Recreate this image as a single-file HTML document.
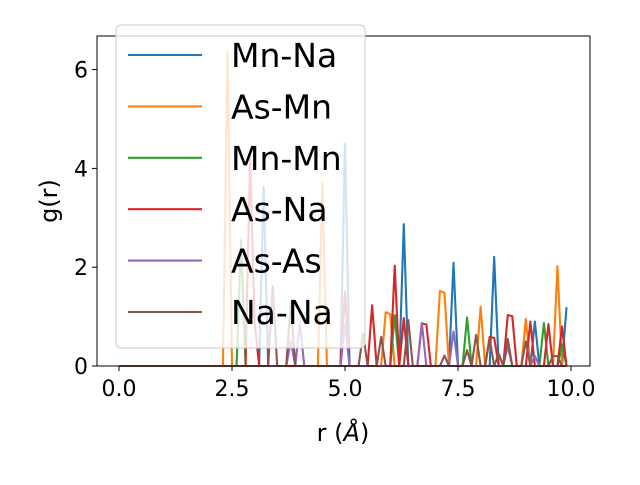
<!DOCTYPE html>
<html><head><meta charset="utf-8"><style>
body{margin:0;background:#fff;}
svg text{font-family:"DejaVu Sans","Liberation Sans",sans-serif;}
</style></head><body>
<svg id="chart" width="640" height="480" xmlns="http://www.w3.org/2000/svg">
<g id="plot"></g>
<g id="axes"></g>
<g id="legend"></g>
</svg>
<script>
const seriesNames = ["Mn-Na","As-Mn","Mn-Mn","As-Na","As-As","Na-Na"];
const seriesColors = ["#1f77b4","#ff7f0e","#2ca02c","#d62728","#9467bd","#8c564b"];
const xTicks = [0.0,2.5,5.0,7.5,10.0];
const xTickLabels = ["0.0","2.5","5.0","7.5","10.0"];
const yTicks = [0,2,4,6];
const yTickLabels = ["0","2","4","6"];
// peak positions (r) and heights (g) for each pair; all other grid points are 0
const mnNaR = [3.2,5.0,6.3,7.4,8.3,9.2,9.9];
const mnNaG = [3.63,4.5,2.87,2.09,2.21,0.9,1.19];
const asMnR = [2.4,4.5,5.9,6.0,7.1,7.2,8.0,9.0,9.7];
const asMnG = [6.36,3.7,1.09,1.05,1.52,1.48,1.2,0.95,2.02];
const mnMnR = [2.7,6.1,7.7,9.4,9.8];
const mnMnG = [2.55,1.03,0.98,0.87,0.44];
const asNaR = [2.9,3.0,5.0,5.6,6.1,6.3,6.7,6.8,8.2,8.3,8.6,8.7,9.1,9.5,9.8];
const asNaG = [4.24,0.9,1.5,1.23,2.03,0.97,0.86,0.84,0.59,0.57,1.03,1.01,0.9,0.85,0.8];
const asAsR = [3.8,4.0,5.0,6.7,7.4,8.6,9.2];
const asAsG = [0.5,0.87,0.85,0.87,0.7,0.4,0.2];
const naNaR = [3.4,3.8,5.4,5.8,6.4,7.2,7.7,7.9,8.2,8.4,8.6,9.0,9.6,9.7];
const naNaG = [1.62,1.3,0.66,0.59,0.93,0.21,0.32,0.63,0.55,0.25,0.55,0.5,0.2,0.2];
const peakR = [mnNaR,asMnR,mnMnR,asNaR,asAsR,naNaR];
const peakG = [mnNaG,asMnG,mnMnG,asNaG,asAsG,naNaG];
const rStep = 0.1, rCount = 100;

const L=97,R=590,T=36,B=366;
const xMin=-0.487,xMax=10.42,yMin=0,yMax=6.68;
const xs=v=>L+(v-xMin)/(xMax-xMin)*(R-L);
const ys=v=>B-(v-yMin)/(yMax-yMin)*(B-T);
const NS="http://www.w3.org/2000/svg";
function mk(tag,attrs,parent){const e=document.createElementNS(NS,tag);for(const k in attrs)e.setAttribute(k,attrs[k]);parent.appendChild(e);return e;}
const plot=document.getElementById('plot'),axes=document.getElementById('axes'),leg=document.getElementById('legend');

peakR.forEach((rs,si)=>{
  const pts=[];
  for(let i=0;i<rCount;i++){
    const r=i*rStep;
    let g=0;
    rs.forEach((pr,j)=>{if(Math.abs(pr-r)<rStep/2)g=peakG[si][j];});
    pts.push(xs(r).toFixed(2)+","+ys(g).toFixed(2));
  }
  const p=mk('polyline',{points:pts.join(' '),fill:'none',stroke:seriesColors[si],'stroke-width':2.1,'stroke-linejoin':'round'},plot);
  
  
});

const frame=mk('rect',{x:L,y:T,width:R-L,height:B-T,fill:'none',stroke:'#000','stroke-width':1},axes);


xTicks.forEach((t,i)=>{
  const x=xs(t);
  const tk=mk('line',{x1:x,x2:x,y1:B,y2:B+5,stroke:'#000','stroke-width':1},axes);
  
  
  const tx=mk('text',{x:x,y:B+30,'text-anchor':'middle','font-size':22},axes);
  tx.textContent=xTickLabels[i];
  
  
});
yTicks.forEach((t,i)=>{
  const y=ys(t);
  const tk=mk('line',{x1:L-5,x2:L,y1:y,y2:y,stroke:'#000','stroke-width':1},axes);
  
  
  const tx=mk('text',{x:L-9,y:y+8,'text-anchor':'end','font-size':22},axes);
  tx.textContent=yTickLabels[i];
  
  
});
const xl=mk('text',{x:343,y:441,'text-anchor':'middle','font-size':24},axes);
xl.innerHTML='r (<tspan font-style="italic">Å</tspan>)';


const yl=mk('text',{x:57,y:201,'text-anchor':'middle','font-size':24,transform:'rotate(-90 57 201)'},axes);
yl.textContent='g(r)';



const lb=mk('rect',{x:116,y:25,width:249,height:323,rx:5,fill:'#fff','fill-opacity':0.8,stroke:'#ccc','stroke-width':1},leg);


seriesNames.forEach((n,i)=>{
  const y=55+i*51.4;
  const g=mk('g',{},leg);
  
  
  mk('line',{x1:128,x2:202,y1:y,y2:y,stroke:seriesColors[i],'stroke-width':2.1},g);
  const t=mk('text',{x:231,y:y+12,'font-size':33},g);
  t.textContent=n;
});
</script>
</body></html>
